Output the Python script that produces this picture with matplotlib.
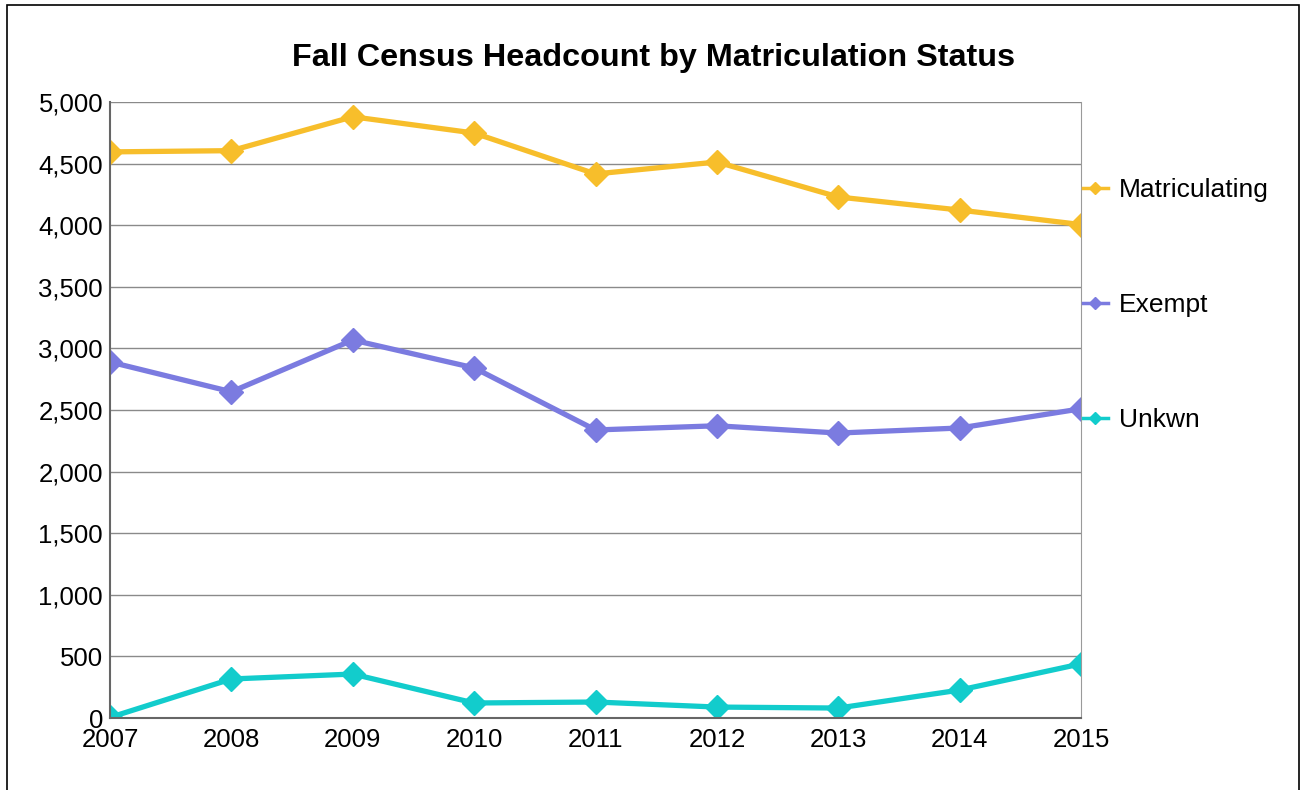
import numpy as np
import matplotlib.pyplot as plt
from matplotlib.patches import Rectangle
from matplotlib.ticker import FuncFormatter

plt.rcParams['font.family'] = ['Liberation Sans', 'DejaVu Sans']

years = [2007, 2008, 2009, 2010, 2011, 2012, 2013, 2014, 2015]
matriculating = [4595, 4605, 4880, 4748, 4416, 4513, 4229, 4123, 4005]
exempt = [2890, 2648, 3068, 2842, 2338, 2372, 2313, 2354, 2510]
unkwn = [5, 317, 357, 122, 130, 89, 81, 227, 440]

series = [("Matriculating", matriculating, "#F7BE2B"),
          ("Exempt", exempt, "#7B7BE0"),
          ("Unkwn", unkwn, "#12CCCC")]

fig = plt.figure(figsize=(13.02, 7.90), dpi=100)
ax = fig.add_axes([0.0845, 0.0911, 0.7458, 0.7798])

for name, vals, col in series:
    ax.plot(years, vals, color=col, lw=3.8, marker="D", ms=12,
            label=name, solid_joinstyle="round")

ax.set_xlim(2007, 2015)
ax.set_ylim(0, 5000)
ax.set_yticks(np.arange(0, 5001, 500))
ax.set_xticks(years)
ax.yaxis.set_major_formatter(FuncFormatter(lambda v, p: f"{int(v):,}"))
ax.grid(axis="y", color="#8a8a8a", lw=1)
ax.grid(axis="x", visible=False)
ax.tick_params(labelsize=18.5, length=0, pad=5)
ax.tick_params(axis="x", pad=7)
for s in ["left", "bottom"]:
    ax.spines[s].set_color("#666666")
    ax.spines[s].set_linewidth(1.5)
ax.spines["right"].set_color("#9a9a9a")
ax.spines["top"].set_visible(False)

fig.text(0.502, 0.927, "Fall Census Headcount by Matriculation Status",
         ha="center", va="center", fontsize=23.3, fontweight="bold")

leg = fig.legend(loc="upper left", bbox_to_anchor=(0.8135, 0.805), frameon=False,
                 fontsize=19, handlelength=0.95, handletextpad=0.4,
                 labelspacing=3.45, markerscale=0.55)
for h in leg.legend_handles:
    h.set_linewidth(2.5)

fig.patches.append(Rectangle((0.005, -0.01), 0.993, 1.004, transform=fig.transFigure,
                             fill=False, edgecolor="black", lw=1.2))

fig.savefig("out.png", dpi=100)
